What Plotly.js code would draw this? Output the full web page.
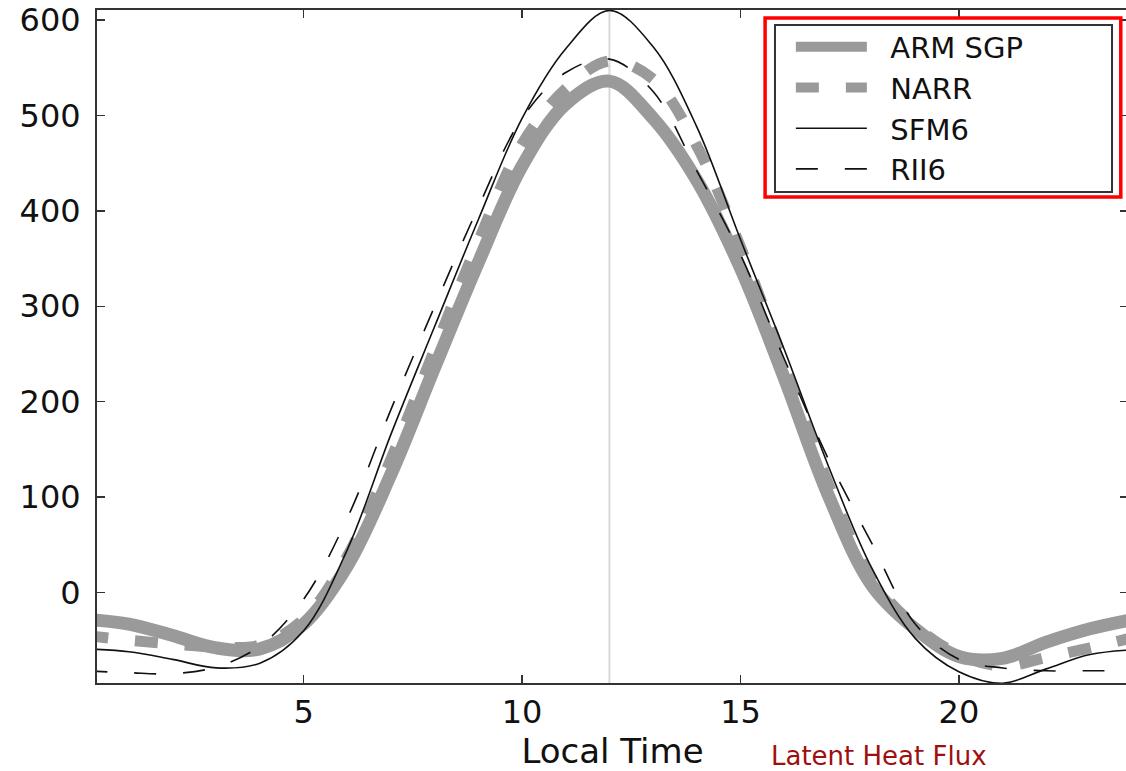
<!DOCTYPE html>
<html>
<head>
<meta charset="utf-8">
<script src="https://cdn.plot.ly/plotly-3.0.1.min.js"></script>
<style>
  html, body { margin: 0; padding: 0; background: #fff; overflow: hidden; }
  #chart { width: 1128px; height: 771px; }
</style>
</head>
<body>
<div id="chart"></div>
<script>
// Local time (hours)
const hours = [0,1,2,3,4,5,6,7,8,9,10,11,12,13,14,15,16,17,18,19,20,21,22,23,24];
// Latent heat flux (W m-2)
const armSGP = [-28,-33,-45,-58,-59,-33,28,124,236,346,447,512,536,497,432,340,225,103,8,-38,-67,-69,-52,-38,-28];
const narr   = [-45,-50,-54,-57,-55,-28,38,140,255,368,470,528,557,538,468,362,240,115,15,-35,-65,-77,-68,-58,-47];
const sfm6   = [-59,-62,-70,-79,-74,-40,45,166,279,391,497,570,610,572,488,370,255,134,26,-48,-83,-95,-80,-65,-60];
const rii6   = [-82,-84,-85,-78,-56,-7,78,192,300,404,497,545,559,525,442,354,245,141,52,-33,-70,-79,-82,-82,-82];

const seriesNames = ['ARM SGP','NARR','SFM6','RII6'];
const xTicks = [5,10,15,20];
const yTicks = [0,100,200,300,400,500,600];

const FONT = 'DejaVu Sans, Arial, sans-serif';
const PAD = '\u00A0\u00A0';

const traces = [
  {x: hours, y: armSGP, name: PAD + seriesNames[0], mode: 'lines',
   line: {color: '#9a9a9a', width: 13, shape: 'spline'}},
  {x: hours, y: narr, name: PAD + seriesNames[1], mode: 'lines',
   line: {color: '#9a9a9a', width: 11, shape: 'spline', dash: '23px,27px'}},
  {x: hours, y: sfm6, name: PAD + seriesNames[2], mode: 'lines',
   line: {color: '#111', width: 1.6, shape: 'spline'}},
  {x: hours, y: rii6, name: PAD + seriesNames[3], mode: 'lines',
   line: {color: '#111', width: 1.6, shape: 'spline', dash: '22px,27px'}}
];

const axisCommon = {
  showgrid: false, zeroline: false, showline: true, linecolor: '#333', linewidth: 2,
  mirror: 'ticks', ticks: 'inside', ticklen: 8, tickwidth: 1.5, tickcolor: '#333',
  tickfont: {family: FONT, size: 32, color: '#111'}
};

const layout = {
  width: 1128, height: 771,
  margin: {l: 97, r: 0, t: 10, b: 88},
  paper_bgcolor: '#fff', plot_bgcolor: '#fff',
  showlegend: true,
  xaxis: Object.assign({}, axisCommon, {
    range: [0.27, 23.87], tickvals: xTicks, ticktext: xTicks.map(String),
    title: {text: 'Local Time', font: {family: FONT, size: 34, color: '#111'}, standoff: 9}
  }),
  yaxis: Object.assign({}, axisCommon, {
    range: [-94.8, 610.5], tickvals: yTicks, ticktext: yTicks.map(String),
    ticklabelstandoff: 8
  }),
  legend: {
    x: 0.673, y: 0.983, xanchor: 'left', yanchor: 'top',
    bgcolor: 'rgba(255,255,255,0)', borderwidth: 0,
    font: {family: FONT, size: 29, color: '#111'},
    itemwidth: 71, tracegroupgap: 0
  },
  shapes: [
    {type: 'line', xref: 'x', yref: 'paper', x0: 12, x1: 12, y0: 0, y1: 1,
     line: {color: '#d9d9d9', width: 2}, layer: 'below'},
    {type: 'rect', xref: 'paper', yref: 'paper', x0: 0.6576, x1: 0.9845, y0: 0.7296, y1: 0.9777,
     line: {color: '#333', width: 2}, fillcolor: 'rgba(0,0,0,0)'},
    {type: 'rect', xref: 'paper', yref: 'paper', x0: 0.648, x1: 0.993, y0: 0.722, y1: 0.988,
     line: {color: '#ff0000', width: 3.5}, fillcolor: 'rgba(0,0,0,0)'}
  ],
  annotations: [
    {text: 'Latent Heat Flux', xref: 'paper', yref: 'paper', x: 0.6528, y: -0.1323,
     xanchor: 'left', yanchor: 'bottom', showarrow: false, borderpad: 0,
     font: {family: FONT, size: 26, color: '#9e1010'}}
  ]
};

Plotly.newPlot('chart', traces, layout, {displayModeBar: false, staticPlot: true});
</script>
</body>
</html>
